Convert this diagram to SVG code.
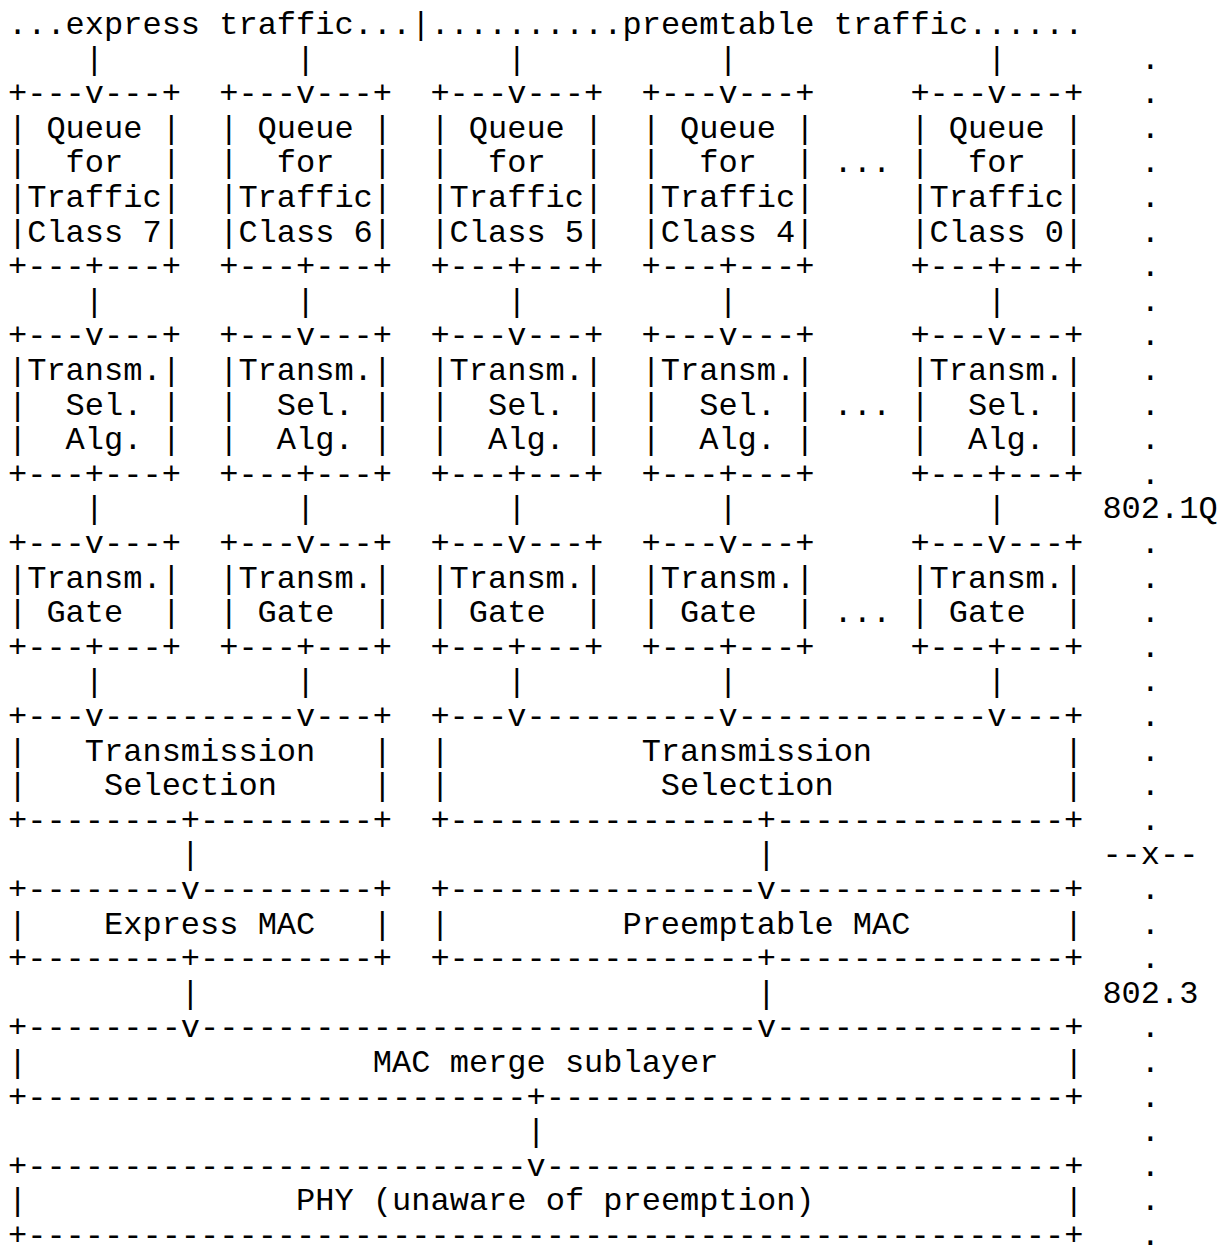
<svg xmlns="http://www.w3.org/2000/svg" width="1220" height="1245" viewBox="0 0 1220 1245" xml:space="preserve">
<style>
.t { font-family: "Liberation Mono", "Courier New", monospace; font-size: 32px; fill: #000; white-space: pre; }
</style>
<rect x="0" y="0" width="1220" height="1245" fill="#fff"/>
<g id="header"><text class="t" x="8" y="34">...express traffic...|..........preemtable traffic......</text></g>
<g id="queue7"><text class="t"><tspan x="8" y="103.2">+---v---+</tspan><tspan x="8" y="137.8">| Queue |</tspan><tspan x="8" y="172.4">|  for  |</tspan><tspan x="8" y="207">|Traffic|</tspan><tspan x="8" y="241.6">|Class 7|</tspan><tspan x="8" y="276.2">+---+---+</tspan></text></g>
<g id="queue6"><text class="t"><tspan x="219.2" y="103.2">+---v---+</tspan><tspan x="219.2" y="137.8">| Queue |</tspan><tspan x="219.2" y="172.4">|  for  |</tspan><tspan x="219.2" y="207">|Traffic|</tspan><tspan x="219.2" y="241.6">|Class 6|</tspan><tspan x="219.2" y="276.2">+---+---+</tspan></text></g>
<g id="queue5"><text class="t"><tspan x="430.4" y="103.2">+---v---+</tspan><tspan x="430.4" y="137.8">| Queue |</tspan><tspan x="430.4" y="172.4">|  for  |</tspan><tspan x="430.4" y="207">|Traffic|</tspan><tspan x="430.4" y="241.6">|Class 5|</tspan><tspan x="430.4" y="276.2">+---+---+</tspan></text></g>
<g id="queue4"><text class="t"><tspan x="641.6" y="103.2">+---v---+</tspan><tspan x="641.6" y="137.8">| Queue |</tspan><tspan x="641.6" y="172.4">|  for  |</tspan><tspan x="641.6" y="207">|Traffic|</tspan><tspan x="641.6" y="241.6">|Class 4|</tspan><tspan x="641.6" y="276.2">+---+---+</tspan></text></g>
<g id="queue0"><text class="t"><tspan x="910.4" y="103.2">+---v---+</tspan><tspan x="910.4" y="137.8">| Queue |</tspan><tspan x="910.4" y="172.4">|  for  |</tspan><tspan x="910.4" y="207">|Traffic|</tspan><tspan x="910.4" y="241.6">|Class 0|</tspan><tspan x="910.4" y="276.2">+---+---+</tspan></text></g>
<g id="sel7"><text class="t"><tspan x="8" y="345.4">+---v---+</tspan><tspan x="8" y="380">|Transm.|</tspan><tspan x="8" y="414.6">|  Sel. |</tspan><tspan x="8" y="449.2">|  Alg. |</tspan><tspan x="8" y="483.8">+---+---+</tspan></text></g>
<g id="sel6"><text class="t"><tspan x="219.2" y="345.4">+---v---+</tspan><tspan x="219.2" y="380">|Transm.|</tspan><tspan x="219.2" y="414.6">|  Sel. |</tspan><tspan x="219.2" y="449.2">|  Alg. |</tspan><tspan x="219.2" y="483.8">+---+---+</tspan></text></g>
<g id="sel5"><text class="t"><tspan x="430.4" y="345.4">+---v---+</tspan><tspan x="430.4" y="380">|Transm.|</tspan><tspan x="430.4" y="414.6">|  Sel. |</tspan><tspan x="430.4" y="449.2">|  Alg. |</tspan><tspan x="430.4" y="483.8">+---+---+</tspan></text></g>
<g id="sel4"><text class="t"><tspan x="641.6" y="345.4">+---v---+</tspan><tspan x="641.6" y="380">|Transm.|</tspan><tspan x="641.6" y="414.6">|  Sel. |</tspan><tspan x="641.6" y="449.2">|  Alg. |</tspan><tspan x="641.6" y="483.8">+---+---+</tspan></text></g>
<g id="sel0"><text class="t"><tspan x="910.4" y="345.4">+---v---+</tspan><tspan x="910.4" y="380">|Transm.|</tspan><tspan x="910.4" y="414.6">|  Sel. |</tspan><tspan x="910.4" y="449.2">|  Alg. |</tspan><tspan x="910.4" y="483.8">+---+---+</tspan></text></g>
<g id="gate7"><text class="t"><tspan x="8" y="553">+---v---+</tspan><tspan x="8" y="587.6">|Transm.|</tspan><tspan x="8" y="622.2">| Gate  |</tspan><tspan x="8" y="656.8">+---+---+</tspan></text></g>
<g id="gate6"><text class="t"><tspan x="219.2" y="553">+---v---+</tspan><tspan x="219.2" y="587.6">|Transm.|</tspan><tspan x="219.2" y="622.2">| Gate  |</tspan><tspan x="219.2" y="656.8">+---+---+</tspan></text></g>
<g id="gate5"><text class="t"><tspan x="430.4" y="553">+---v---+</tspan><tspan x="430.4" y="587.6">|Transm.|</tspan><tspan x="430.4" y="622.2">| Gate  |</tspan><tspan x="430.4" y="656.8">+---+---+</tspan></text></g>
<g id="gate4"><text class="t"><tspan x="641.6" y="553">+---v---+</tspan><tspan x="641.6" y="587.6">|Transm.|</tspan><tspan x="641.6" y="622.2">| Gate  |</tspan><tspan x="641.6" y="656.8">+---+---+</tspan></text></g>
<g id="gate0"><text class="t"><tspan x="910.4" y="553">+---v---+</tspan><tspan x="910.4" y="587.6">|Transm.|</tspan><tspan x="910.4" y="622.2">| Gate  |</tspan><tspan x="910.4" y="656.8">+---+---+</tspan></text></g>
<g id="ellipses"><text class="t"><tspan x="833.6" y="172.4">...</tspan><tspan x="833.6" y="414.6">...</tspan><tspan x="833.6" y="622.2">...</tspan></text></g>
<g id="ts-express"><text class="t"><tspan x="8" y="726">+---v----------v---+</tspan><tspan x="8" y="760.6">|   Transmission   |</tspan><tspan x="8" y="795.2">|    Selection     |</tspan><tspan x="8" y="829.8">+--------+---------+</tspan></text></g>
<g id="ts-preempt"><text class="t"><tspan x="430.4" y="726">+---v----------v-------------v---+</tspan><tspan x="430.4" y="760.6">|          Transmission          |</tspan><tspan x="430.4" y="795.2">|           Selection            |</tspan><tspan x="430.4" y="829.8">+----------------+---------------+</tspan></text></g>
<g id="express-mac"><text class="t"><tspan x="8" y="899">+--------v---------+</tspan><tspan x="8" y="933.6">|    Express MAC   |</tspan><tspan x="8" y="968.2">+--------+---------+</tspan></text></g>
<g id="preempt-mac"><text class="t"><tspan x="430.4" y="899">+----------------v---------------+</tspan><tspan x="430.4" y="933.6">|         Preemptable MAC        |</tspan><tspan x="430.4" y="968.2">+----------------+---------------+</tspan></text></g>
<g id="mac-merge"><text class="t"><tspan x="8" y="1037.4">+--------v-----------------------------v---------------+</tspan><tspan x="8" y="1072">|                  MAC merge sublayer                  |</tspan><tspan x="8" y="1106.6">+--------------------------+---------------------------+</tspan></text></g>
<g id="phy"><text class="t"><tspan x="8" y="1175.8">+--------------------------v---------------------------+</tspan><tspan x="8" y="1210.4">|              PHY (unaware of preemption)             |</tspan><tspan x="8" y="1245">+------------------------------------------------------+</tspan></text></g>
<g id="connectors"><text class="t">
<tspan x="84.8" y="68.6">|</tspan><tspan x="296" y="68.6">|</tspan><tspan x="507.2" y="68.6">|</tspan><tspan x="718.4" y="68.6">|</tspan><tspan x="987.2" y="68.6">|</tspan>
<tspan x="84.8" y="310.8">|</tspan><tspan x="296" y="310.8">|</tspan><tspan x="507.2" y="310.8">|</tspan><tspan x="718.4" y="310.8">|</tspan><tspan x="987.2" y="310.8">|</tspan>
<tspan x="84.8" y="518.4">|</tspan><tspan x="296" y="518.4">|</tspan><tspan x="507.2" y="518.4">|</tspan><tspan x="718.4" y="518.4">|</tspan><tspan x="987.2" y="518.4">|</tspan>
<tspan x="84.8" y="691.4">|</tspan><tspan x="296" y="691.4">|</tspan><tspan x="507.2" y="691.4">|</tspan><tspan x="718.4" y="691.4">|</tspan><tspan x="987.2" y="691.4">|</tspan>
<tspan x="180.8" y="864.4">|</tspan><tspan x="756.8" y="864.4">|</tspan>
<tspan x="180.8" y="1002.8">|</tspan><tspan x="756.8" y="1002.8">|</tspan>
<tspan x="526.4" y="1141.2">|</tspan>
</text></g>
<g id="layer-labels"><text class="t">
<tspan x="1140.8" y="68.6">.</tspan><tspan x="1140.8" y="103.2">.</tspan><tspan x="1140.8" y="137.8">.</tspan><tspan x="1140.8" y="172.4">.</tspan><tspan x="1140.8" y="207">.</tspan><tspan x="1140.8" y="241.6">.</tspan><tspan x="1140.8" y="276.2">.</tspan><tspan x="1140.8" y="310.8">.</tspan><tspan x="1140.8" y="345.4">.</tspan><tspan x="1140.8" y="380">.</tspan><tspan x="1140.8" y="414.6">.</tspan><tspan x="1140.8" y="449.2">.</tspan><tspan x="1140.8" y="483.8">.</tspan>
<tspan x="1102.4" y="518.4">802.1Q</tspan>
<tspan x="1140.8" y="553">.</tspan><tspan x="1140.8" y="587.6">.</tspan><tspan x="1140.8" y="622.2">.</tspan><tspan x="1140.8" y="656.8">.</tspan><tspan x="1140.8" y="691.4">.</tspan><tspan x="1140.8" y="726">.</tspan><tspan x="1140.8" y="760.6">.</tspan><tspan x="1140.8" y="795.2">.</tspan><tspan x="1140.8" y="829.8">.</tspan>
<tspan x="1102.4" y="864.4">--x--</tspan>
<tspan x="1140.8" y="899">.</tspan><tspan x="1140.8" y="933.6">.</tspan><tspan x="1140.8" y="968.2">.</tspan>
<tspan x="1102.4" y="1002.8">802.3</tspan>
<tspan x="1140.8" y="1037.4">.</tspan><tspan x="1140.8" y="1072">.</tspan><tspan x="1140.8" y="1106.6">.</tspan><tspan x="1140.8" y="1141.2">.</tspan><tspan x="1140.8" y="1175.8">.</tspan><tspan x="1140.8" y="1210.4">.</tspan><tspan x="1140.8" y="1245">.</tspan>
</text></g>
</svg>
